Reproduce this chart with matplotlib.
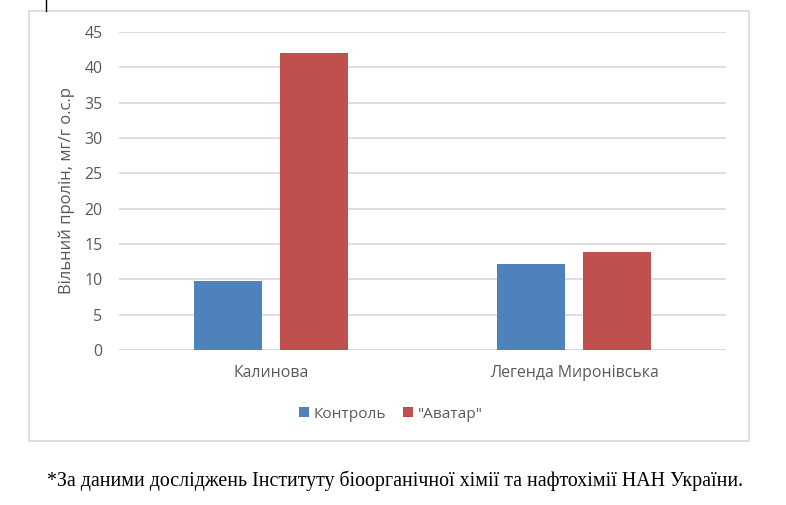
import matplotlib.pyplot as plt
import numpy as np
from matplotlib.patches import Rectangle
from matplotlib.lines import Line2D

categories = ['Калинова', 'Легенда Миронівська']
series_names = ['Контроль', '"Аватар"']
control = [9.7, 12.1]
avatar = [42.0, 13.9]
yticks = [0, 5, 10, 15, 20, 25, 30, 35, 40, 45]

colors = ['#4F81BD', '#C0504D']
grid_color = '#D9D9D9'
text_color = '#595959'

plt.rcParams['font.family'] = ['Open Sans', 'DejaVu Sans']

fig = plt.figure(figsize=(7.86, 5.05), dpi=100)
W, H = 786, 505

# chart frame
fig.patches.append(Rectangle((29 / W, 1 - 441 / H), 720 / W, 430 / H,
                             transform=fig.transFigure, fill=False,
                             edgecolor='#D9D9D9', linewidth=1.2))
# little cursor mark at the top
fig.lines.append(Line2D([46 / W, 46 / W], [1, 1 - 11 / H],
                        transform=fig.transFigure, color='black', linewidth=1))

ax = fig.add_axes([119 / W, 1 - 350 / H, 607 / W, 318 / H])

x = np.arange(len(categories))
width = 0.224
off = 0.142
ax.bar(x - off, control, width, color=colors[0], label=series_names[0], zorder=3)
ax.bar(x + off, avatar, width, color=colors[1], label=series_names[1], zorder=3)

ax.set_xlim(-0.5, 1.5)
ax.set_ylim(0, 45)
ax.set_yticks(yticks)
ax.set_xticks(x)
ax.set_xticklabels(categories)
ax.yaxis.grid(True, color=grid_color, linewidth=1.2, zorder=0)
for s in ax.spines.values():
    s.set_visible(False)
ax.tick_params(axis='both', length=0, colors=text_color, labelsize=11.4)
ax.tick_params(axis='y', pad=12)
ax.tick_params(axis='x', pad=11)
ax.axhline(0, color=grid_color, linewidth=1.2, zorder=2)

ax.set_ylabel('Вільний пролін, мг/г о.с.р', color=text_color, fontsize=12, labelpad=12)
ax.yaxis.set_label_coords(-0.0725, 0.5)

fig.legend(loc='center', bbox_to_anchor=(391 / W, 1 - 414 / H), ncol=2, frameon=False,
           fontsize=11.1, labelcolor=text_color, handlelength=0.65, handleheight=0.65,
           handletextpad=0.3, columnspacing=1.1)

fig.text(395 / W, 1 - 481 / H,
         '*За даними досліджень Інституту біоорганічної хімії та нафтохімії НАН України.',
         ha='center', va='center', fontsize=14.3, family=['Liberation Serif'], color='black')

fig.savefig('out.png', dpi=100)
